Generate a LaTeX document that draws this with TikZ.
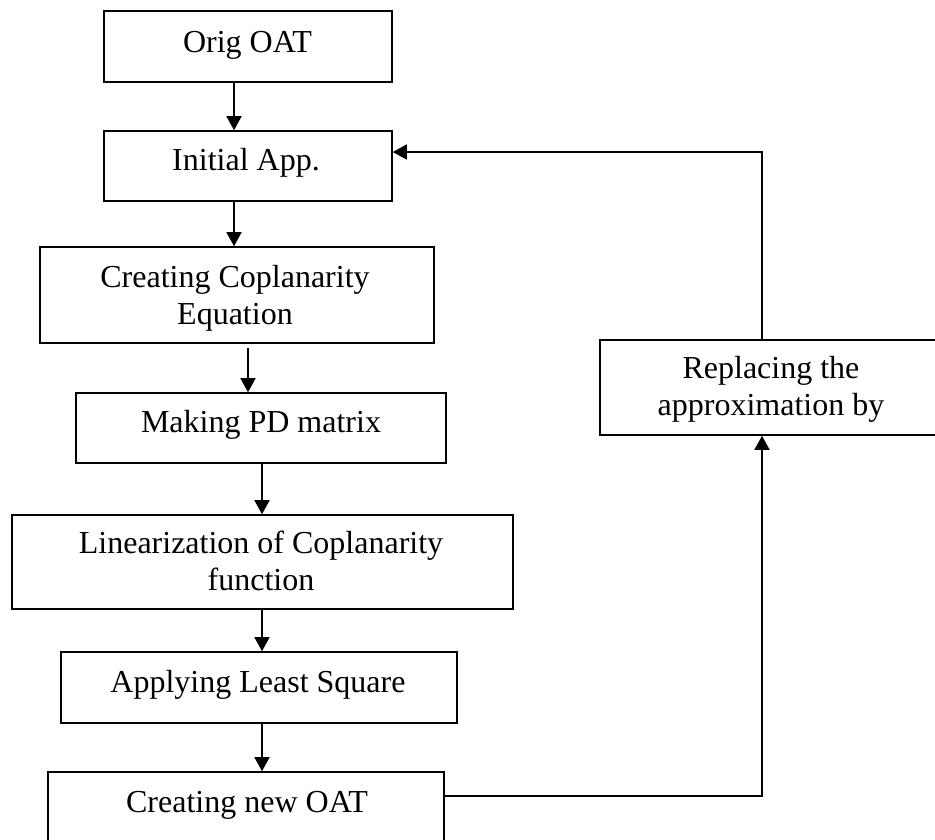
\documentclass[tikz,border=0pt]{standalone}
\usepackage{fontspec}
\setmainfont{Liberation Serif}
\usetikzlibrary{arrows.meta}
\begin{document}
\begin{tikzpicture}[x=1pt,y=-1pt,
  box/.style={draw, line width=1.6pt, inner sep=0pt},
  txt/.style={font=\fontsize{32}{37}\selectfont, align=center, inner sep=0pt, anchor=base},
  arr/.style={line width=1.6pt, -{Triangle[width=15pt,length=14pt]}},
  link/.style={line width=1.6pt}]
\useasboundingbox (0,0) rectangle (935,839);
\clip (0,0) rectangle (935,839);
% boxes
\node[box, minimum width=288pt, minimum height=71pt] (b1) at (248,46.5) {};
\node[box, minimum width=288pt, minimum height=70pt] (b2) at (248,166) {};
\node[box, minimum width=394pt, minimum height=96pt] (b3) at (237,295) {};
\node[box, minimum width=370pt, minimum height=70pt] (b4) at (261,428) {};
\node[box, minimum width=501pt, minimum height=94pt] (b5) at (262.5,562) {};
\node[box, minimum width=396pt, minimum height=71pt] (b6) at (259,687.5) {};
\node[box, minimum width=396pt, minimum height=108pt] (b7) at (246,826) {};
\node[box, minimum width=370pt, minimum height=95pt] (b8) at (785,387.5) {};
% texts (multi-line nodes are anchored at the baseline of their last line)
\node[txt] (t1) at (247.5,52) {Orig OAT};
\node[txt] (t2) at (246,170) {Initial App.};
\node[txt] (t3) at (235,324) {Creating Coplanarity\\Equation};
\node[txt] (t4) at (261,432) {Making PD matrix};
\node[txt] (t5) at (261,590) {Linearization of Coplanarity\\function};
\node[txt] (t6) at (258,692) {Applying Least Square};
\node[txt] (t7) at (247,812) {Creating new OAT};
\node[txt] (t8) at (771,415) {Replacing the\\approximation by};
% connector columns / rows
\coordinate (xa) at (234,0);
\coordinate (xb) at (248,0);
\coordinate (xc) at (262,0);
\coordinate (xr) at (762,0);
\coordinate (ylow) at (0,796);
\coordinate (ytop) at (0,152);
% connectors
\draw[arr] (b1.south -| xa) -- (b2.north -| xa);
\draw[arr] (b2.south -| xa) -- (b3.north -| xa);
\draw[arr] ([yshift=-4pt]b3.south -| xb) -- (b4.north -| xb);
\draw[arr] (b4.south -| xc) -- (b5.north -| xc);
\draw[arr] (b5.south -| xc) -- (b6.north -| xc);
\draw[arr] (b6.south -| xc) -- (b7.north -| xc);
\draw[arr] (b7.east |- ylow) -| (b8.south -| xr);
\draw[arr] (b8.north -| xr) |- (b2.east |- ytop);
\end{tikzpicture}
\end{document}
